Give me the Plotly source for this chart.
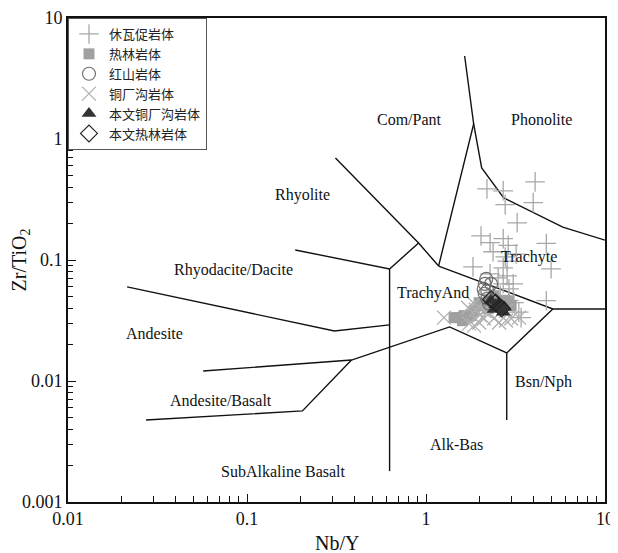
import math
import plotly.graph_objects as go

# ---------------- Classification boundary lines (Nb/Y, Zr/TiO2) ----------------
line_andesite_x = [0.0214, 0.308, 0.626]
line_andesite_y = [0.0599, 0.0259, 0.0291]

line_rhyodacite_x = [0.186, 0.626, 0.909]
line_rhyodacite_y = [0.1211, 0.0842, 0.1383]

line_rhyolite_x = [0.312, 0.909, 1.176]
line_rhyolite_y = [0.697, 0.1383, 0.0891]

line_compant_x = [1.176, 1.846, 1.644]
line_compant_y = [0.0891, 1.331, 4.85]

line_phonolite_x = [1.846, 2.047, 2.718, 5.81, 10.0]
line_phonolite_y = [1.331, 0.576, 0.3256, 0.1871, 0.146]

line_trachyte_x = [1.176, 5.11, 10.0]
line_trachyte_y = [0.0891, 0.0394, 0.0394]

line_trachyand_x = [5.11, 2.825, 1.355, 0.3835, 0.0569]
line_trachyand_y = [0.0394, 0.01704, 0.0280, 0.0149, 0.01209]

line_bsnnph_x = [2.825, 2.825]
line_bsnnph_y = [0.01704, 0.00476]

line_andbas_x = [0.3835, 0.204, 0.0273]
line_andbas_y = [0.0149, 0.00566, 0.00476]

line_alkbas_x = [0.626, 0.626]
line_alkbas_y = [0.0842, 0.0018]

boundary_lines = [
    (line_andesite_x, line_andesite_y),
    (line_rhyodacite_x, line_rhyodacite_y),
    (line_rhyolite_x, line_rhyolite_y),
    (line_compant_x, line_compant_y),
    (line_phonolite_x, line_phonolite_y),
    (line_trachyte_x, line_trachyte_y),
    (line_trachyand_x, line_trachyand_y),
    (line_bsnnph_x, line_bsnnph_y),
    (line_andbas_x, line_andbas_y),
    (line_alkbas_x, line_alkbas_y),
]

# ---------------- Field labels ----------------
field_names = ["Com/Pant", "Phonolite", "Rhyolite", "Trachyte", "Rhyodacite/Dacite",
               "TrachyAnd", "Andesite", "Andesite/Basalt", "Bsn/Nph", "Alk-Bas",
               "SubAlkaline Basalt"]
field_x = [0.809, 4.44, 0.204, 3.75, 0.0838, 1.10, 0.0303, 0.0718, 4.55, 1.48, 0.1595]
field_y = [1.436, 1.436, 0.344, 0.1059, 0.0827, 0.0534, 0.0245, 0.00684, 0.00981, 0.00296, 0.0018]

# ---------------- Sample data ----------------
xiuwacu_x = [2.19, 2.70, 4.07, 3.97, 2.77, 3.23, 2.03, 2.28, 2.70, 2.88, 4.70, 2.37, 2.77,
             3.19, 2.84, 5.00, 1.83, 2.70, 2.28, 2.53, 2.84, 3.07, 2.70, 2.91, 4.70, 3.40,
             2.60, 2.90, 3.10, 3.30]
xiuwacu_y = [0.387, 0.373, 0.442, 0.298, 0.287, 0.203, 0.158, 0.139, 0.150, 0.132, 0.137,
             0.117, 0.106, 0.112, 0.098, 0.0846, 0.0878, 0.0862, 0.0768, 0.0713, 0.0740,
             0.0636, 0.0636, 0.0578, 0.0461, 0.0334, 0.051, 0.0464, 0.0445, 0.0371]

relin_x = [1.435, 1.53, 1.63, 1.786, 1.857, 1.98, 2.22, 2.40, 2.53, 2.63, 2.88, 2.99,
           1.60, 1.70, 2.10, 2.30]
relin_y = [0.0334, 0.0334, 0.0347, 0.0347, 0.0382, 0.0444, 0.0396, 0.0506, 0.0460, 0.0420,
           0.0460, 0.0420, 0.0315, 0.0333, 0.0417, 0.0463]

hongshan_x = [2.17, 2.13, 2.10, 2.13, 2.20, 2.25, 2.31, 2.20]
hongshan_y = [0.0697, 0.0635, 0.0577, 0.0526, 0.0479, 0.0436, 0.0635, 0.0557]

tongchanggou_x = [1.261, 1.74, 1.857, 1.98, 2.11, 2.40, 2.56, 2.80, 2.99, 3.31, 2.11, 1.72,
                  1.857, 2.25, 2.80, 2.00, 2.20, 1.90]
tongchanggou_y = [0.0334, 0.0298, 0.0287, 0.0304, 0.0328, 0.0328, 0.0304, 0.0316, 0.0328,
                  0.0334, 0.0381, 0.0403, 0.0435, 0.0460, 0.0381, 0.0351, 0.0370, 0.0388]

this_tcg_x = [2.30, 2.45, 2.60, 2.70, 2.55, 2.40, 2.75]
this_tcg_y = [0.0463, 0.0426, 0.0398, 0.0370, 0.0444, 0.0389, 0.0407]

this_relin_x = [2.31, 2.45, 2.65]
this_relin_y = [0.0472, 0.0444, 0.0398]

series_names = ["休瓦促岩体", "热林岩体", "红山岩体", "铜厂沟岩体", "本文铜厂沟岩体", "本文热林岩体"]

x_major = [0.01, 0.1, 1, 10]
x_major_text = ["0.01", "0.1", "1", "10"]
y_major = [0.001, 0.01, 0.1, 1, 10]
y_major_text = ["0.001", "0.01", "0.1", "1", "10"]
x_title = "Nb/Y"
y_title = "Zr/TiO<sub>2</sub>"

fig = go.Figure()

for bx, by in boundary_lines:
    fig.add_trace(go.Scatter(x=bx, y=by, mode="lines",
                             line=dict(color="#111111", width=1.4),
                             showlegend=False, hoverinfo="skip"))

fig.add_trace(go.Scatter(x=xiuwacu_x, y=xiuwacu_y, mode="markers", name=series_names[0],
                         legendrank=1,
                         marker=dict(symbol="cross-thin", size=14, color="#a8a8a8",
                                     line=dict(color="#a8a8a8", width=1.3))))
fig.add_trace(go.Scatter(x=relin_x, y=relin_y, mode="markers", name=series_names[1],
                         legendrank=2,
                         marker=dict(symbol="square", size=11, color="#a0a0a0",
                                     line=dict(width=0))))
fig.add_trace(go.Scatter(x=tongchanggou_x, y=tongchanggou_y, mode="markers", name=series_names[3],
                         legendrank=4,
                         marker=dict(symbol="x-thin", size=14, color="#b0b0b0",
                                     line=dict(color="#b0b0b0", width=1.3))))
fig.add_trace(go.Scatter(x=hongshan_x, y=hongshan_y, mode="markers", name=series_names[2],
                         legendrank=3,
                         marker=dict(symbol="circle-open", size=13, color="#707070",
                                     line=dict(color="#707070", width=1.2))))
fig.add_trace(go.Scatter(x=this_tcg_x, y=this_tcg_y, mode="markers", name=series_names[4],
                         legendrank=5,
                         marker=dict(symbol="triangle-up", size=13, color="#333333",
                                     line=dict(width=0))))
fig.add_trace(go.Scatter(x=this_relin_x, y=this_relin_y, mode="markers", name=series_names[5],
                         legendrank=6,
                         marker=dict(symbol="diamond-open", size=13, color="#222222",
                                     line=dict(color="#222222", width=1.2))))

for name, tx, ty in zip(field_names, field_x, field_y):
    fig.add_annotation(x=math.log10(tx), y=math.log10(ty), xref="x", yref="y", text=name,
                       showarrow=False,
                       font=dict(family="Liberation Serif", size=16, color="#111111"))

# x-axis title placed as a paper-referenced annotation so it sits just below the ticks
fig.add_annotation(x=0.5, y=-0.058, xref="paper", yref="paper", text=x_title,
                   showarrow=False, xanchor="center", yanchor="top",
                   font=dict(family="Liberation Serif", size=20, color="#111111"))

# The page body adds an offset, so margins are set to place the plot frame
# at the same screen position as in the reference.
fig.update_layout(
    width=618, height=553,
    margin=dict(l=60, r=21, t=10, b=59, autoexpand=False),
    paper_bgcolor="white", plot_bgcolor="white",
    font=dict(family="Liberation Serif", color="#111111"),
    legend=dict(x=0, y=1, xanchor="left", yanchor="top",
                bgcolor="white", bordercolor="#555555", borderwidth=1,
                font=dict(family="Noto Sans CJK SC", size=13, color="#222222"),
                traceorder="normal", tracegroupgap=0,
                itemwidth=30),
)

x_minor = [m * d for d in [0.01, 0.1, 1] for m in range(2, 10)]
y_minor = [m * d for d in [0.001, 0.01, 0.1, 1] for m in range(2, 10)]

fig.update_xaxes(type="log", range=[-2, 1], automargin=False,
                 tickvals=x_major, ticktext=x_major_text,
                 ticks="inside", ticklen=8, tickwidth=1, tickcolor="#111111",
                 minor=dict(ticks="inside", ticklen=6, tickcolor="#111111", tickvals=x_minor,
                            showgrid=False),
                 showline=True, linecolor="#111111", linewidth=1.6, mirror=True,
                 showgrid=False, zeroline=False,
                 tickfont=dict(family="Liberation Serif", size=18, color="#111111"))
fig.update_yaxes(type="log", range=[-3, 1], automargin=False,
                 tickvals=y_major, ticktext=y_major_text,
                 ticks="inside", ticklen=8, tickwidth=1, tickcolor="#111111",
                 minor=dict(ticks="inside", ticklen=5, tickcolor="#111111", tickvals=y_minor,
                            showgrid=False),
                 showline=True, linecolor="#111111", linewidth=1.6, mirror=True,
                 showgrid=False, zeroline=False,
                 tickfont=dict(family="Liberation Serif", size=18, color="#111111"),
                 title=dict(text=y_title,
                            font=dict(family="Liberation Serif", size=20, color="#111111")))

fig.write_html("out.html")
